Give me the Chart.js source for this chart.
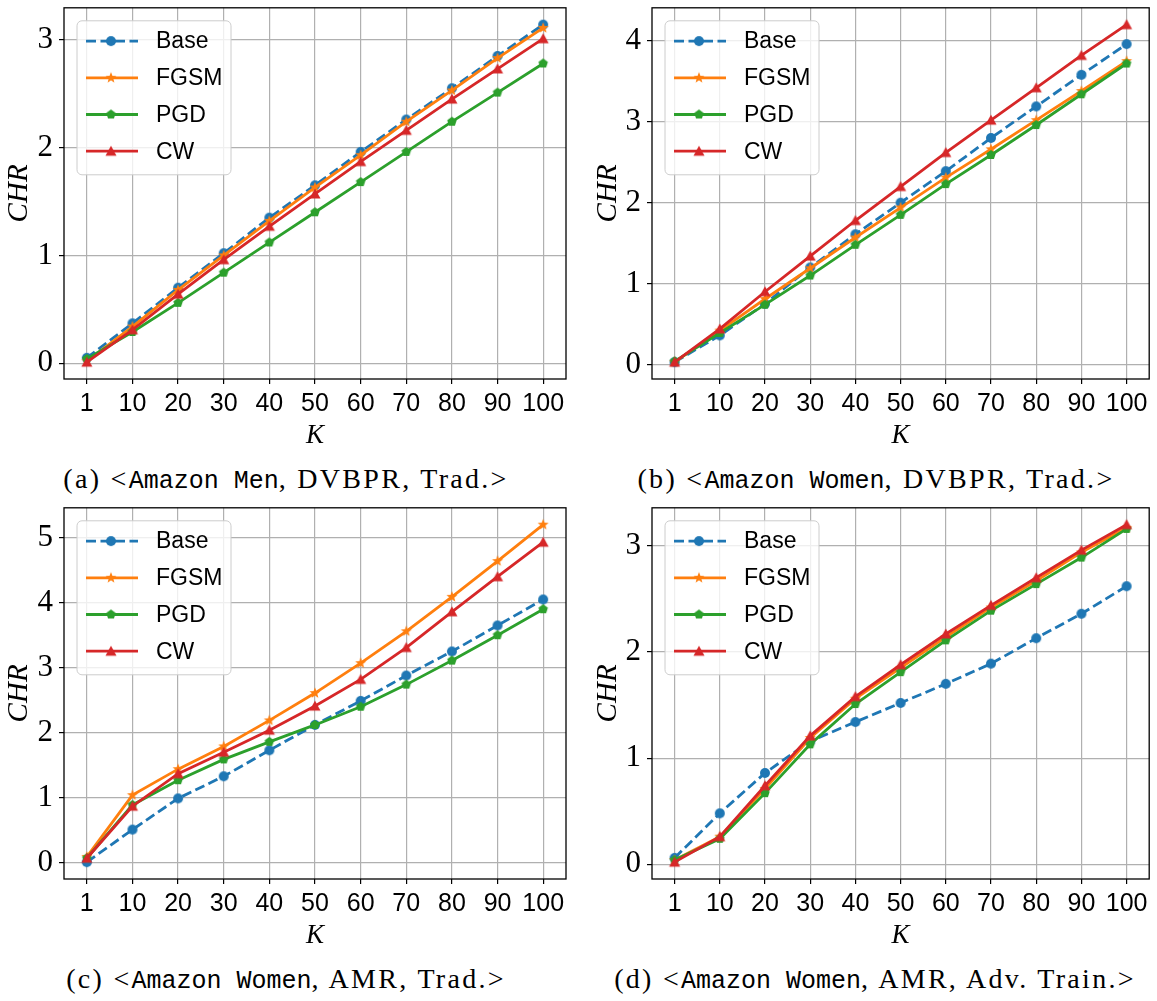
<!DOCTYPE html>
<html>
<head>
<meta charset="utf-8">
<title>CHR at K</title>
<script src="https://cdn.jsdelivr.net/npm/chart.js@4.4.1/dist/chart.umd.min.js"></script>
<style>
  body { margin: 0; background: #fff; }
  #page { position: relative; width: 1157px; height: 1001px; overflow: hidden; background: #fff; }
  .panel { position: absolute; }
  .cap {
    position: absolute; width: 640px; margin-left: -320px; text-align: center;
    font-family: "Liberation Serif", serif; font-size: 28px; line-height: 28px;
    letter-spacing: 2.3px; color: #000; white-space: nowrap;
  }
  .cap .tt { font-family: "Liberation Mono", monospace; font-size: 25px; letter-spacing: 0; }
</style>
</head>
<body>
<div id="page">
  <canvas id="chartA" class="panel" width="580" height="455" style="left:0;top:0"></canvas>
  <canvas id="chartB" class="panel" width="577" height="455" style="left:580px;top:0"></canvas>
  <canvas id="chartC" class="panel" width="580" height="455" style="left:0;top:500px"></canvas>
  <canvas id="chartD" class="panel" width="577" height="455" style="left:580px;top:500px"></canvas>

  <div class="cap" style="left:286px;top:465px">(a) &lt;<span class="tt">Amazon Men</span>, DVBPR, Trad.&gt;</div>
  <div class="cap" style="left:876px;top:465px">(b) &lt;<span class="tt">Amazon Women</span>, DVBPR, Trad.&gt;</div>
  <div class="cap" style="left:286px;top:965px">(c) &lt;<span class="tt">Amazon Women</span>, AMR, Trad.&gt;</div>
  <div class="cap" style="left:875px;top:965px">(d) &lt;<span class="tt">Amazon Women</span>, AMR, Adv. Train.&gt;</div>
</div>

<script>
// cut-off K and method names
const kLabels = ['1', '10', '20', '30', '40', '50', '60', '70', '80', '90', '100'];
const methods = ['Base', 'FGSM', 'PGD', 'CW'];

// (a) Amazon Men, DVBPR, Trad.
const menDvbprBase = [0.05, 0.37, 0.70, 1.02, 1.35, 1.65, 1.96, 2.26, 2.55, 2.85, 3.14];
const menDvbprFgsm = [0.02, 0.34, 0.68, 1.00, 1.32, 1.63, 1.93, 2.24, 2.53, 2.83, 3.11];
const menDvbprPgd  = [0.04, 0.29, 0.56, 0.84, 1.12, 1.40, 1.68, 1.96, 2.24, 2.51, 2.78];
const menDvbprCw   = [0.01, 0.31, 0.64, 0.96, 1.27, 1.57, 1.87, 2.16, 2.45, 2.73, 3.01];

// (b) Amazon Women, DVBPR, Trad.
const womenDvbprBase = [0.03, 0.36, 0.75, 1.20, 1.61, 2.00, 2.39, 2.80, 3.19, 3.58, 3.96];
const womenDvbprFgsm = [0.03, 0.42, 0.81, 1.19, 1.57, 1.94, 2.31, 2.66, 3.02, 3.38, 3.75];
const womenDvbprPgd  = [0.04, 0.39, 0.74, 1.10, 1.48, 1.85, 2.23, 2.59, 2.96, 3.34, 3.72];
const womenDvbprCw   = [0.03, 0.44, 0.90, 1.34, 1.78, 2.20, 2.62, 3.02, 3.42, 3.82, 4.20];

// (c) Amazon Women, AMR, Trad.
const womenAmrBase = [0.01, 0.51, 0.99, 1.33, 1.73, 2.12, 2.49, 2.88, 3.25, 3.65, 4.05];
const womenAmrFgsm = [0.09, 1.04, 1.44, 1.79, 2.19, 2.61, 3.07, 3.56, 4.09, 4.64, 5.20];
const womenAmrPgd  = [0.07, 0.89, 1.27, 1.59, 1.86, 2.12, 2.40, 2.74, 3.11, 3.50, 3.90];
const womenAmrCw   = [0.07, 0.87, 1.37, 1.70, 2.04, 2.41, 2.82, 3.31, 3.86, 4.40, 4.93];

// (d) Amazon Women, AMR, Adv. Train.
const womenAdvBase = [0.06, 0.48, 0.86, 1.16, 1.34, 1.52, 1.70, 1.89, 2.13, 2.36, 2.62];
const womenAdvFgsm = [0.04, 0.26, 0.71, 1.19, 1.56, 1.85, 2.14, 2.42, 2.67, 2.94, 3.17];
const womenAdvPgd  = [0.04, 0.24, 0.67, 1.13, 1.51, 1.81, 2.11, 2.39, 2.64, 2.89, 3.16];
const womenAdvCw   = [0.02, 0.26, 0.74, 1.21, 1.58, 1.88, 2.17, 2.44, 2.70, 2.96, 3.20];

const colors = ['#1f77b4', '#ff7f0e', '#2ca02c', '#d62728'];
const shapes = ['circle', 'star', 'pentagon', 'triangle'];

// small canvases used as point markers (matplotlib o, *, p, ^)
function makeMarker(shape, color) {
  const c = document.createElement('canvas');
  c.width = 16; c.height = 16;
  const g = c.getContext('2d');
  const cx = 8, cy = 8;
  g.fillStyle = color;
  g.beginPath();
  if (shape === 'circle') {
    g.arc(cx, cy, 5, 0, Math.PI * 2);
  } else if (shape === 'triangle') {
    g.moveTo(cx, cy - 5.5);
    g.lineTo(cx + 5.5, cy + 4.5);
    g.lineTo(cx - 5.5, cy + 4.5);
  } else if (shape === 'pentagon') {
    for (let i = 0; i < 5; i++) {
      const a = -Math.PI / 2 + i * 2 * Math.PI / 5;
      g.lineTo(cx + 5 * Math.cos(a), cy + 5 * Math.sin(a));
    }
  } else if (shape === 'star') {
    for (let i = 0; i < 10; i++) {
      const r = i % 2 === 0 ? 5.8 : 2.4;
      const a = -Math.PI / 2 + i * Math.PI / 5;
      g.lineTo(cx + r * Math.cos(a), cy + r * Math.sin(a));
    }
  }
  g.closePath();
  g.fill();
  return c;
}
const markers = shapes.map((s, i) => makeMarker(s, colors[i]));

const frameBox = {
  id: 'frameBox',
  afterDatasetsDraw(chart) {
    const a = chart.chartArea, ctx = chart.ctx;
    ctx.save();
    ctx.strokeStyle = '#000';
    ctx.lineWidth = 1.3;
    ctx.strokeRect(a.left, a.top, a.right - a.left, a.bottom - a.top);

    // legend in the upper left corner of the plot
    const x = a.left + 13, y = a.top + 13, w = 154, h = 154;
    ctx.beginPath();
    ctx.roundRect(x, y, w, h, 5);
    ctx.fillStyle = 'rgba(255,255,255,0.8)';
    ctx.fill();
    ctx.strokeStyle = '#cccccc';
    ctx.lineWidth = 1;
    ctx.stroke();
    ctx.font = '23px "Liberation Sans", "DejaVu Sans", sans-serif';
    ctx.textBaseline = 'middle';
    ctx.textAlign = 'left';
    methods.forEach((name, i) => {
      const ry = y + 20.3 + i * 36.7;
      ctx.beginPath();
      ctx.strokeStyle = colors[i];
      ctx.lineWidth = 2.8;
      ctx.setLineDash(i === 0 ? [10, 4.5] : []);
      ctx.moveTo(x + 9, ry);
      ctx.lineTo(x + 61, ry);
      ctx.stroke();
      ctx.setLineDash([]);
      ctx.drawImage(markers[i], x + 34 - 8, ry - 8);
      ctx.fillStyle = '#000';
      ctx.fillText(name, x + 79, ry + 1);
    });
    ctx.restore();
  }
};

function drawPanel(id, series, axisWidth, titlePad, padRight) {
  let lo = Infinity, hi = -Infinity;
  series.forEach(s => s.forEach(v => { lo = Math.min(lo, v); hi = Math.max(hi, v); }));
  const margin = (hi - lo) * 0.05;

  const datasets = series.map((data, i) => ({
    label: methods[i],
    data: data,
    borderColor: colors[i],
    backgroundColor: colors[i],
    borderWidth: 2.8,
    borderDash: i === 0 ? [10, 4.5] : [],
    pointStyle: markers[i],
    pointRadius: 5,
    tension: 0,
    fill: false,
    order: 4 - i
  }));

  new Chart(document.getElementById(id), {
    type: 'line',
    data: { labels: kLabels, datasets: datasets },
    options: {
      responsive: false,
      animation: false,
      devicePixelRatio: 1,
      layout: { padding: { top: 5, right: padRight, left: 0, bottom: 0 } },
      plugins: { legend: { display: false }, tooltip: { enabled: false } },
      scales: {
        x: {
          type: 'category',
          offset: true,
          grid: { color: '#b0b0b0', lineWidth: 1.2, tickColor: '#000', tickLength: 5, offset: false },
          border: { display: false },
          ticks: {
            color: '#000', padding: 5, maxRotation: 0, autoSkip: false,
            font: { family: '"Liberation Sans", "DejaVu Sans", sans-serif', size: 25 }
          },
          title: {
            display: true, text: 'K', color: '#000', padding: { top: 0, bottom: 6 },
            font: { family: '"Liberation Serif", serif', size: 27, style: 'italic', lineHeight: 1 }
          },
          afterFit(scale) {
            scale.height = 76;
            scale.paddingLeft = 0; scale.paddingRight = 0;
          }
        },
        y: {
          min: lo - margin,
          max: hi + margin,
          grid: { color: '#b0b0b0', lineWidth: 1.2, tickColor: '#000', tickLength: 5 },
          border: { display: false },
          ticks: {
            stepSize: 1, includeBounds: false, color: '#000', padding: 6,
            callback: v => Number.isInteger(v) ? String(v) : '',
            font: { family: '"Liberation Serif", serif', size: 31 }
          },
          title: {
            display: true, text: 'CHR', color: '#000', padding: { top: titlePad, bottom: 0 },
            font: { family: '"Liberation Serif", serif', size: 29, style: 'italic', lineHeight: 1 }
          },
          afterFit(scale) {
            scale.width = axisWidth;
            scale.paddingTop = 0; scale.paddingBottom = 0;
          }
        }
      }
    },
    plugins: [frameBox]
  });
}

drawPanel('chartA', [menDvbprBase, menDvbprFgsm, menDvbprPgd, menDvbprCw], 64, 5, 14);
drawPanel('chartB', [womenDvbprBase, womenDvbprFgsm, womenDvbprPgd, womenDvbprCw], 72, 14, 2);
drawPanel('chartC', [womenAmrBase, womenAmrFgsm, womenAmrPgd, womenAmrCw], 64, 5, 14);
drawPanel('chartD', [womenAdvBase, womenAdvFgsm, womenAdvPgd, womenAdvCw], 72, 14, 2);
</script>
</body>
</html>
